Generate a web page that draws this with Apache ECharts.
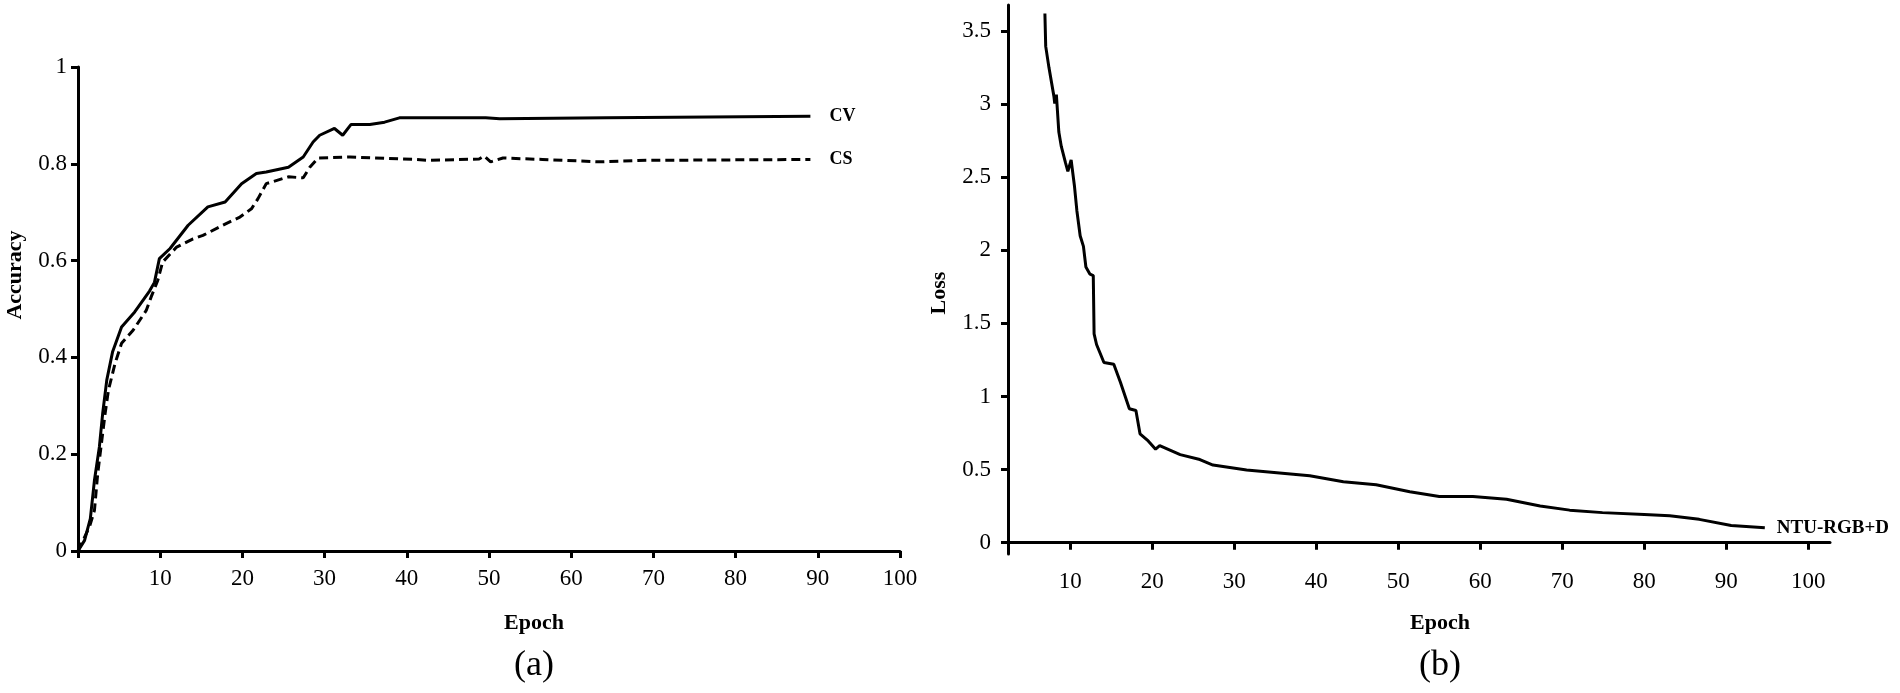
<!DOCTYPE html>
<html>
<head>
<meta charset="utf-8">
<script src="https://cdn.jsdelivr.net/npm/echarts@6/dist/echarts.min.js"></script>
<style>
html,body{margin:0;padding:0;background:#fff;}
#chart{width:1900px;height:693px;}
</style>
</head>
<body>
<div id="chart"></div>
<script>
// ---- Data (a): accuracy vs epoch ----
const epochCV = [0,0.8,1.5,2.0,2.6,3.0,3.5,4.2,5.3,6.9,7.9,8.7,9.3,9.9,11.2,13.4,15.8,17.9,19.9,21.7,22.9,25.6,27.4,28.6,29.4,31.2,32.2,33.2,35.5,37.3,39.1,49.6,51.3,64.3,89.1];
const accCV   = [0,0.022,0.067,0.146,0.215,0.284,0.353,0.411,0.463,0.494,0.518,0.537,0.555,0.604,0.625,0.673,0.711,0.721,0.759,0.780,0.783,0.793,0.814,0.845,0.859,0.873,0.859,0.881,0.881,0.886,0.895,0.895,0.893,0.895,0.898];
const epochCS = [0,1.4,2.0,2.4,2.9,3.3,3.7,4.5,5.3,6.7,8.3,8.9,9.7,10.3,12.0,14.0,15.2,17.6,19.7,21.1,21.9,22.9,25.6,27.4,28.2,29.2,33.1,41.0,42.6,48.8,49.4,50.2,51.7,56.5,63.6,68.1,89.1];
const accCS   = [0,0.050,0.084,0.160,0.229,0.284,0.332,0.387,0.429,0.456,0.497,0.525,0.559,0.597,0.628,0.645,0.652,0.673,0.690,0.707,0.728,0.759,0.773,0.771,0.793,0.812,0.814,0.809,0.807,0.810,0.816,0.804,0.812,0.809,0.804,0.807,0.809];
// ---- Data (b): loss vs epoch ----
const epochLoss = [6.9,7.0,7.4,8.0,8.1,8.3,8.5,8.6,8.9,9.4,9.7,10.1,10.5,10.8,11.2,11.6,11.9,12.4,12.8,12.9,13.2,14.1,15.3,16.1,17.2,18.0,18.5,19.5,20.4,20.9,23.4,25.8,27.4,31.5,39.2,43.3,47.3,51.4,55.0,59.1,63.2,67.3,70.9,74.9,80.0,83.1,86.7,90.6,94.7];
const lossVals  = [3.62,3.395,3.248,3.053,3.004,3.065,3.065,2.809,2.711,2.601,2.540,2.618,2.442,2.271,2.100,2.027,1.886,1.837,1.827,1.429,1.356,1.233,1.221,1.099,0.916,0.904,0.745,0.696,0.640,0.664,0.603,0.569,0.531,0.497,0.458,0.417,0.397,0.349,0.317,0.317,0.297,0.251,0.223,0.206,0.194,0.185,0.160,0.118,0.103];
// ---- Tick labels ----
const ticksLossY = [0,0.5,1,1.5,2,2.5,3,3.5];
const ticksLossX = [10,20,30,40,50,60,70,80,90,100];
const seriesNames = ['CV','CS','NTU-RGB+D'];
const axisTitles = {a:['Epoch','Accuracy'], b:['Epoch','Loss']};
const panelLabels = ['(a)','(b)'];

const zip = (xs, ys) => xs.map((x, i) => [x, ys[i]]);
const FONT = '"Liberation Serif","Times New Roman",serif';
const axisLineStyle = {color:'#000', width:3};
const tickStyle = {show:true, inside:false, length:7, lineStyle:{color:'#000', width:3}};
const labelStyle = {color:'#000', fontFamily:FONT, fontSize:23};

const chart = echarts.init(document.getElementById('chart'), null, {renderer:'canvas'});
chart.setOption({
  animation:false,
  backgroundColor:'#fff',
  grid:[
    {left:78, right:1000, top:67, bottom:142, containLabel:false},
    {left:1008, right:70, top:5, bottom:139, containLabel:false}
  ],
  xAxis:[
    {type:'value', gridIndex:0, min:0, max:100, interval:10,
     axisLine:{show:true, lineStyle:axisLineStyle}, axisTick:tickStyle,
     axisLabel:Object.assign({margin:16, formatter:v => v === 0 ? '' : String(v)}, labelStyle),
     splitLine:{show:false}},
    {type:'value', gridIndex:1, min:2.4, max:102.65,
     axisLine:{show:true, lineStyle:axisLineStyle},
     axisTick:Object.assign({customValues:ticksLossX}, tickStyle),
     axisLabel:Object.assign({margin:16, customValues:ticksLossX}, labelStyle),
     splitLine:{show:false}}
  ],
  yAxis:[
    {type:'value', gridIndex:0, min:0, max:1, interval:0.2,
     axisLine:{show:true, lineStyle:axisLineStyle}, axisTick:tickStyle,
     axisLabel:Object.assign({margin:11}, labelStyle),
     splitLine:{show:false}},
    {type:'value', gridIndex:1, min:-0.077, max:3.678,
     axisLine:{show:true, lineStyle:axisLineStyle},
     axisTick:Object.assign({customValues:ticksLossY}, tickStyle),
     axisLabel:Object.assign({margin:17, customValues:ticksLossY}, labelStyle),
     splitLine:{show:false}}
  ],
  series:[
    {name:seriesNames[0], type:'line', xAxisIndex:0, yAxisIndex:0, data:zip(epochCV, accCV),
     symbol:'none', lineStyle:{color:'#000', width:3},
     endLabel:{show:true, formatter:seriesNames[0], distance:19, color:'#000', fontFamily:FONT, fontWeight:'bold', fontSize:18}},
    {name:seriesNames[1], type:'line', xAxisIndex:0, yAxisIndex:0, data:zip(epochCS, accCS),
     symbol:'none', lineStyle:{color:'#000', width:3, type:[9,5]},
     endLabel:{show:true, formatter:seriesNames[1], distance:19, color:'#000', fontFamily:FONT, fontWeight:'bold', fontSize:18}},
    {name:seriesNames[2], type:'line', xAxisIndex:1, yAxisIndex:1, data:zip(epochLoss, lossVals),
     symbol:'none', lineStyle:{color:'#000', width:3},
     endLabel:{show:true, formatter:seriesNames[2], distance:12, color:'#000', fontFamily:FONT, fontWeight:'bold', fontSize:19}}
  ],
  graphic:[
    {type:'text', x:534, y:623, style:{text:axisTitles.a[0], align:'center', verticalAlign:'middle', fill:'#000', fontFamily:FONT, fontWeight:'bold', fontSize:22}},
    {type:'text', x:15, y:275, rotation:Math.PI/2, style:{text:axisTitles.a[1], align:'center', verticalAlign:'middle', fill:'#000', fontFamily:FONT, fontWeight:'bold', fontSize:22}},
    {type:'text', x:1440, y:623, style:{text:axisTitles.b[0], align:'center', verticalAlign:'middle', fill:'#000', fontFamily:FONT, fontWeight:'bold', fontSize:22}},
    {type:'text', x:939, y:293, rotation:Math.PI/2, style:{text:axisTitles.b[1], align:'center', verticalAlign:'middle', fill:'#000', fontFamily:FONT, fontWeight:'bold', fontSize:22}},
    {type:'text', x:534, y:666, style:{text:panelLabels[0], align:'center', verticalAlign:'middle', fill:'#000', fontFamily:FONT, fontSize:36}},
    {type:'text', x:1440, y:666, style:{text:panelLabels[1], align:'center', verticalAlign:'middle', fill:'#000', fontFamily:FONT, fontSize:36}}
  ]
});
</script>
</body>
</html>
